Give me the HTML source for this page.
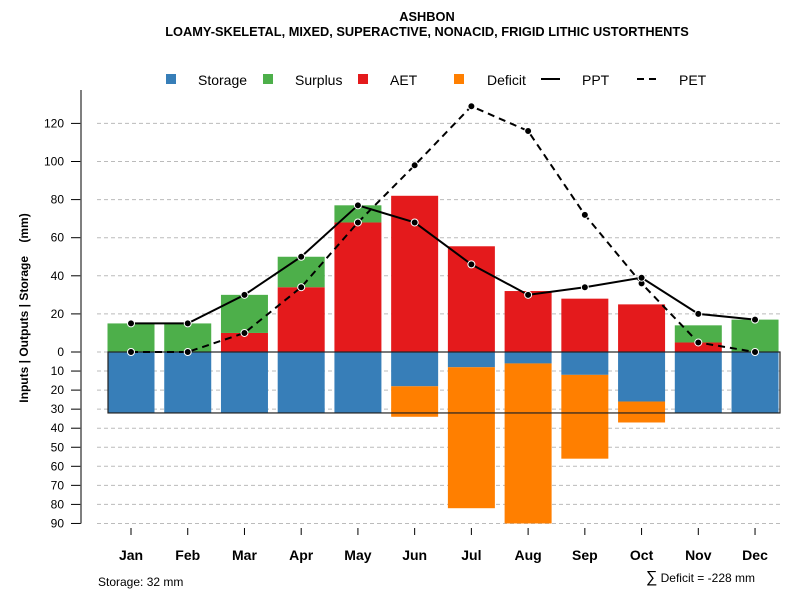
<!DOCTYPE html>
<html><head><meta charset="utf-8"><style>
body{margin:0;background:#fff;font-family:"Liberation Sans",sans-serif}
svg text{font-family:"Liberation Sans",sans-serif}
</style></head><body>
<svg width="800" height="600" xmlns="http://www.w3.org/2000/svg">
<text x="427" y="21" font-size="12.8" font-weight="bold" text-anchor="middle">ASHBON</text>
<text x="427" y="36" font-size="12.8" font-weight="bold" text-anchor="middle">LOAMY-SKELETAL, MIXED, SUPERACTIVE, NONACID, FRIGID LITHIC USTORTHENTS</text>
<g>
<rect x="166" y="74" width="10" height="10" fill="#377eb8"/>
<text x="198" y="85" font-size="14">Storage</text>
<rect x="263" y="74" width="10" height="10" fill="#4daf4a"/>
<text x="295" y="85" font-size="14">Surplus</text>
<rect x="358" y="74" width="10" height="10" fill="#e41a1c"/>
<text x="390" y="85" font-size="14">AET</text>
<rect x="454" y="74" width="10" height="10" fill="#ff7f00"/>
<text x="487" y="85" font-size="14">Deficit</text>
<line x1="541" y1="79" x2="560" y2="79" stroke="#000" stroke-width="2"/>
<text x="582" y="85" font-size="14">PPT</text>
<line x1="637" y1="79" x2="660" y2="79" stroke="#000" stroke-width="2" stroke-dasharray="7,5"/>
<text x="679" y="85" font-size="14">PET</text>
</g>
<text transform="translate(28,308) rotate(-90)" font-size="12" font-weight="bold" text-anchor="middle">Inputs | Outputs | Storage&#160;&#160;&#160;&#160;(mm)</text>
<g id="grid"></g><g id="bars"></g><g id="lines"></g><g id="axes"></g>
<text x="98" y="586" font-size="12">Storage: 32 mm</text>
<text x="755" y="582" font-size="12" text-anchor="end"><tspan font-size="16">∑</tspan> Deficit = -228 mm</text>
</svg>
<script>
const months=["Jan","Feb","Mar","Apr","May","Jun","Jul","Aug","Sep","Oct","Nov","Dec"];
const aet=[0,0,10,34,68,82,55.5,32,28,25,5,0];
const surplus=[15,15,20,16,9,0,0,0,0,0,9,17];
const storage=[32,32,32,32,32,18,8,6,12,26,32,32];
const deficit=[0,0,0,0,0,16,74,84,44,11,0,0];
const ppt=[15,15,30,50,77,68,46,30,34,39,20,17];
const pet=[0,0,10,34,68,98,129,116,72,36,5,0];
const upTicks=[0,20,40,60,80,100,120];
const downTicks=[10,20,30,40,50,60,70,80,90];
const maxStorage=32;
const NS="http://www.w3.org/2000/svg";
const y0=352,k=1.905;
const yUp=v=>y0-v*k, yDn=v=>y0+v*k;
const xc=i=>131+i*56.73;
const bw=47;
function mk(p,t,a){const e=document.createElementNS(NS,t);for(const q in a)e.setAttribute(q,a[q]);document.getElementById(p).appendChild(e);return e;}
upTicks.concat(downTicks.map(v=>-v)).forEach(v=>{
 const y=v>=0?yUp(v):yDn(-v);
 const g=mk('grid','line',{x1:97,x2:780,y1:y,y2:y,stroke:'#bbb','stroke-dasharray':'4,3'});
 
 
 const t=mk('axes','line',{x1:71,x2:81,y1:y,y2:y,stroke:'#000'});
 
 
 const l=mk('axes','text',{x:64,y:y+4,'font-size':12,'text-anchor':'end'});
 l.textContent=Math.abs(v);
 
 
});
const ax=mk('axes','line',{x1:81,x2:81,y1:90,y2:yDn(90),stroke:'#555','stroke-width':1.5});


months.forEach((m,i)=>{
 const x=xc(i)-bw/2;
 const r1=mk('bars','rect',{x:x,y:yUp(aet[i]),width:bw,height:aet[i]*k,fill:'#e41a1c'});
 
 
 const r2=mk('bars','rect',{x:x,y:yUp(aet[i]+surplus[i]),width:bw,height:surplus[i]*k,fill:'#4daf4a'});
 
 
 const r3=mk('bars','rect',{x:x,y:y0,width:bw,height:storage[i]*k,fill:'#377eb8'});
 
 
 const r4=mk('bars','rect',{x:x,y:yDn(storage[i]),width:bw,height:deficit[i]*k,fill:'#ff7f00'});
 
 
 const t=mk('axes','line',{x1:xc(i),x2:xc(i),y1:528,y2:535,stroke:'#000'});
 
 
 const l=mk('axes','text',{x:xc(i),y:560,'font-size':14,'font-weight':'bold','text-anchor':'middle'});
 l.textContent=m;
 
 
});
const box=mk('bars','rect',{x:108,y:y0,width:672,height:maxStorage*k,fill:'none',stroke:'#222','stroke-width':1.2});


function series(arr,name,dash){
 const p=mk('lines','polyline',{points:arr.map((v,i)=>xc(i)+','+yUp(v)).join(' '),fill:'none',stroke:'#000','stroke-width':2,'stroke-dasharray':dash});
 
 
 arr.forEach((v,i)=>{
  const c=mk('lines','circle',{cx:xc(i),cy:yUp(v),r:3.5,fill:'#000',stroke:'#fff','stroke-width':1});
  
  
 });
}
series(pet,'pet','7,5');
series(ppt,'ppt','none');
</script>
</body></html>
